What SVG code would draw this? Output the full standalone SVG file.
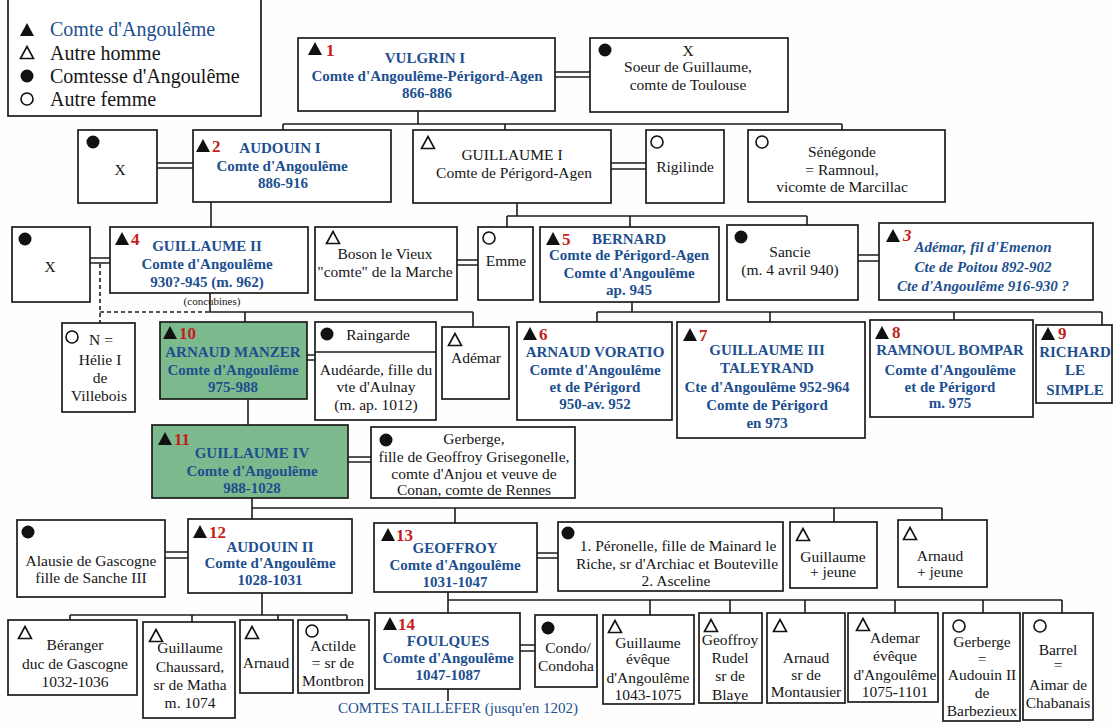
<svg xmlns="http://www.w3.org/2000/svg" xmlns:xlink="http://www.w3.org/1999/xlink" width="1113" height="726" viewBox="0 0 1113 726">
<style>
.bx{fill:#fff;stroke:#1c1c1c;stroke-width:1.7}
.gr{fill:#7cb98d}
.ln{fill:none;stroke:#1c1c1c;stroke-width:1.6}
.ds{fill:none;stroke:#1c1c1c;stroke-width:1.6;stroke-dasharray:4 3}
text{font-family:"Liberation Serif","Times New Roman",serif}
.t{font-size:15.5px;fill:#151515;text-anchor:middle}
.b{font-size:15px;font-weight:bold;fill:#1d4f8f;text-anchor:middle}
.bi{font-size:15px;font-weight:bold;font-style:italic;fill:#1d4f8f;text-anchor:middle}
.n{font-size:17px;font-weight:bold;fill:#c41e1a}
.lg{font-size:20px;fill:#151515}
.sm{font-size:11px;fill:#151515;text-anchor:middle}
</style>
<defs>
<path id="tf" d="M-7,6 L0,-7 L7,6 Z" fill="#111"/>
<path id="to" d="M-6.5,5.5 L0,-6.5 L6.5,5.5 Z" fill="none" stroke="#111" stroke-width="1.6"/>
<circle id="cf" r="6.5" fill="#111"/>
<circle id="co" r="6" fill="none" stroke="#111" stroke-width="1.6"/>
</defs>
<rect width="1113" height="726" fill="#fefefe"/>

<g id="legend">
<rect class="bx" x="8" y="-2" width="253" height="118"/>
<use href="#tf" x="27" y="30"/><text class="lg" x="50" y="36" style="fill:#1d4f8f">Comte d'Angoulême</text>
<use href="#to" x="27" y="53"/><text class="lg" x="50" y="60">Autre homme</text>
<use href="#cf" x="27" y="76"/><text class="lg" x="50" y="83">Comtesse d'Angoulême</text>
<use href="#co" x="27" y="99"/><text class="lg" x="50" y="106">Autre femme</text>
</g>

<g id="connectors">
<path class="ln" d="M418,111 V124 M283,124 H842 M283,124 V130 M505,124 V130 M842,124 V130"/>
<path class="ln" d="M211,202 V227"/>
<path class="ln" d="M517,203 V216 M507,216 H807 M507,216 V227 M630,216 V227 M807,216 V225"/>
<path class="ln" d="M210,293 V312 H473 M245,312 V322 M473,312 V327"/>
<path class="ds" d="M100,264 V323 M100,312 H210"/>
<path class="ln" d="M632,302 V312 M597,312 H1102 M597,312 V322 M770,312 V322 M954,312 V320 M1102,312 V325"/>
<path class="ln" d="M248,399 V425"/>
<path class="ln" d="M252,498 V519 M252,508 H942 M455,508 V523 M834,508 V522 M942,508 V520"/>
<path class="ln" d="M262,593 V615 M70,615 H347 M70,615 V620 M192,615 V622 M278,615 V620 M347,615 V620"/>
<path class="ln" d="M448,592 V613 M448,600 H1062 M650,600 V615 M730,600 V613 M805,600 V613 M895,600 V613 M983,600 V613 M1062,600 V613"/>
<path class="ln" d="M448,689 V701"/>
<path class="ln" d="M555,72 H590 M555,77 H590"/>
<path class="ln" d="M157,163 H193 M157,168 H193"/>
<path class="ln" d="M611,163 H646 M611,169 H646"/>
<path class="ln" d="M90,258 H110 M90,263 H110"/>
<path class="ln" d="M457,260 H478 M457,265 H478"/>
<path class="ln" d="M858,255 H879 M858,261 H879"/>
<path class="ln" d="M307,355 H315 M307,360 H315"/>
<path class="ln" d="M348,457 H371 M348,462 H371"/>
<path class="ln" d="M165,552 H188 M165,558 H188"/>
<path class="ln" d="M537,553 H558 M537,558 H558"/>
<path class="ln" d="M520,645 H535 M520,651 H535"/>
</g>

<g id="vulgrin">
<rect class="bx" x="298" y="38" width="257" height="73"/>
<use href="#tf" x="315" y="49"/><text class="n" x="326" y="56">1</text>
<text class="b" x="425" y="63">VULGRIN I</text>
<text class="b" x="427" y="81">Comte d'Angoulême-Périgord-Agen</text>
<text class="b" x="427" y="98">866-886</text>
</g>
<g id="soeur">
<rect class="bx" x="590" y="38" width="198" height="74"/>
<use href="#cf" x="605" y="50"/>
<text class="t" x="688" y="56">X</text>
<text class="t" x="688" y="72">Soeur de Guillaume,</text>
<text class="t" x="688" y="90">comte de Toulouse</text>
</g>
<g id="x1">
<rect class="bx" x="78" y="130" width="79" height="73"/>
<use href="#cf" x="93" y="142"/>
<text class="t" x="120" y="175">X</text>
</g>
<g id="audouin1">
<rect class="bx" x="193" y="130" width="198" height="72"/>
<use href="#tf" x="203" y="146"/><text class="n" x="212" y="152">2</text>
<text class="b" x="280" y="153">AUDOUIN I</text>
<text class="b" x="282" y="171">Comte d'Angoulême</text>
<text class="b" x="283" y="188">886-916</text>
</g>
<g id="guillaume1">
<rect class="bx" x="413" y="130" width="198" height="73"/>
<use href="#to" x="428" y="143"/>
<text class="t" x="512" y="160">GUILLAUME I</text>
<text class="t" x="514" y="178">Comte de Périgord-Agen</text>
</g>
<g id="rigilinde">
<rect class="bx" x="646" y="130" width="78" height="73"/>
<use href="#co" x="657" y="142"/>
<text class="t" x="685" y="172">Rigilinde</text>
</g>
<g id="senegonde">
<rect class="bx" x="748" y="130" width="197" height="72"/>
<use href="#co" x="762" y="142"/>
<text class="t" x="842" y="157">Sénégonde</text>
<text class="t" x="842" y="175">= Ramnoul,</text>
<text class="t" x="842" y="192">vicomte de Marcillac</text>
</g>

<g id="x2">
<rect class="bx" x="12" y="227" width="78" height="75"/>
<use href="#cf" x="25" y="239"/>
<text class="t" x="50" y="272">X</text>
</g>
<g id="guillaume2">
<rect class="bx" x="110" y="227" width="198" height="66"/>
<use href="#tf" x="122" y="239"/><text class="n" x="131" y="245">4</text>
<text class="b" x="207" y="251">GUILLAUME II</text>
<text class="b" x="207" y="269">Comte d'Angoulême</text>
<text class="b" x="207" y="287">930?-945 (m. 962)</text>
<text class="sm" x="212" y="305">(concubines)</text>
</g>
<g id="boson">
<rect class="bx" x="315" y="227" width="142" height="73"/>
<use href="#to" x="333" y="238"/>
<text class="t" x="385" y="259">Boson le Vieux</text>
<text class="t" x="385" y="277">"comte" de la Marche</text>
</g>
<g id="emme">
<rect class="bx" x="478" y="227" width="55" height="73"/>
<use href="#co" x="489" y="238"/>
<text class="t" x="506" y="266">Emme</text>
</g>
<g id="bernard">
<rect class="bx" x="540" y="227" width="179" height="75"/>
<use href="#tf" x="553" y="239"/><text class="n" x="562" y="245">5</text>
<text class="b" x="629" y="244">BERNARD</text>
<text class="b" x="629" y="260">Comte de Périgord-Agen</text>
<text class="b" x="629" y="278">Comte d'Angoulême</text>
<text class="b" x="629" y="295">ap. 945</text>
</g>
<g id="sancie">
<rect class="bx" x="727" y="225" width="131" height="75"/>
<use href="#cf" x="741" y="237"/>
<text class="t" x="790" y="257">Sancie</text>
<text class="t" x="790" y="275">(m. 4 avril 940)</text>
</g>
<g id="ademar3">
<rect class="bx" x="879" y="223" width="214" height="77"/>
<use href="#tf" x="893" y="236"/><text class="n" x="903" y="241" style="font-style:italic">3</text>
<text class="bi" x="983" y="252">Adémar, fil d'Emenon</text>
<text class="bi" x="983" y="272">Cte de Poitou 892-902</text>
<text class="bi" x="983" y="291">Cte d'Angoulême 916-930 ?</text>
</g>

<g id="helie">
<rect class="bx" x="62" y="323" width="73" height="89"/>
<use href="#co" x="72" y="337"/>
<text class="t" x="101" y="345">N =</text>
<text class="t" x="100" y="365">Hélie I</text>
<text class="t" x="100" y="383">de</text>
<text class="t" x="99" y="401">Villebois</text>
</g>
<g id="arnaudmanzer">
<rect class="bx gr" x="160" y="322" width="147" height="77"/>
<use href="#tf" x="170" y="333"/><text class="n" x="179" y="339">10</text>
<text class="b" x="233" y="357">ARNAUD MANZER</text>
<text class="b" x="233" y="375">Comte d'Angoulême</text>
<text class="b" x="233" y="392">975-988</text>
</g>
<g id="raingarde">
<rect class="bx" x="315" y="322" width="121" height="98"/>
<path class="ln" d="M315,352 H436"/>
<use href="#cf" x="327" y="334"/>
<text class="t" x="378" y="340">Raingarde</text>
<text class="t" x="376" y="375">Audéarde, fille du</text>
<text class="t" x="376" y="392">vte d'Aulnay</text>
<text class="t" x="376" y="410">(m. ap. 1012)</text>
</g>
<g id="ademar">
<rect class="bx" x="442" y="327" width="67" height="72"/>
<use href="#to" x="455" y="340"/>
<text class="t" x="476" y="363">Adémar</text>
</g>
<g id="arnaudvoratio">
<rect class="bx" x="517" y="322" width="155" height="98"/>
<use href="#tf" x="530" y="334"/><text class="n" x="539" y="340">6</text>
<text class="b" x="595" y="357">ARNAUD VORATIO</text>
<text class="b" x="595" y="375">Comte d'Angoulême</text>
<text class="b" x="595" y="392">et de Périgord</text>
<text class="b" x="595" y="409">950-av. 952</text>
</g>
<g id="guillaume3">
<rect class="bx" x="677" y="322" width="188" height="116"/>
<use href="#tf" x="690" y="335"/><text class="n" x="699" y="341">7</text>
<text class="b" x="767" y="355">GUILLAUME III</text>
<text class="b" x="767" y="373">TALEYRAND</text>
<text class="b" x="767" y="392">Cte d'Angoulême 952-964</text>
<text class="b" x="767" y="410">Comte de Périgord</text>
<text class="b" x="767" y="428">en 973</text>
</g>
<g id="ramnoul">
<rect class="bx" x="870" y="320" width="163" height="97"/>
<use href="#tf" x="882" y="333"/><text class="n" x="892" y="338">8</text>
<text class="b" x="950" y="355">RAMNOUL BOMPAR</text>
<text class="b" x="950" y="375">Comte d'Angoulême</text>
<text class="b" x="950" y="392">et de Périgord</text>
<text class="b" x="950" y="408">m. 975</text>
</g>
<g id="richard">
<rect class="bx" x="1036" y="325" width="76" height="78"/>
<use href="#tf" x="1048" y="334"/><text class="n" x="1058" y="339">9</text>
<text class="b" x="1075" y="357">RICHARD</text>
<text class="b" x="1075" y="375">LE</text>
<text class="b" x="1075" y="395">SIMPLE</text>
</g>

<g id="guillaume4">
<rect class="bx gr" x="152" y="425" width="196" height="73"/>
<use href="#tf" x="165" y="439"/><text class="n" x="174" y="445">11</text>
<text class="b" x="252" y="458">GUILLAUME IV</text>
<text class="b" x="252" y="476">Comte d'Angoulême</text>
<text class="b" x="252" y="493">988-1028</text>
</g>
<g id="gerberge1">
<rect class="bx" x="371" y="427" width="204" height="71"/>
<use href="#cf" x="386" y="440"/>
<text class="t" x="474" y="444">Gerberge,</text>
<text class="t" x="474" y="462">fille de Geoffroy Grisegonelle,</text>
<text class="t" x="474" y="479">comte d'Anjou et veuve de</text>
<text class="t" x="474" y="495">Conan, comte de Rennes</text>
</g>

<g id="alausie">
<rect class="bx" x="17" y="520" width="148" height="77"/>
<use href="#cf" x="28" y="532"/>
<text class="t" x="91" y="566">Alausie de Gascogne</text>
<text class="t" x="91" y="583">fille de Sanche III</text>
</g>
<g id="audouin2">
<rect class="bx" x="188" y="519" width="164" height="74"/>
<use href="#tf" x="200" y="532"/><text class="n" x="209" y="538">12</text>
<text class="b" x="270" y="552">AUDOUIN II</text>
<text class="b" x="270" y="568">Comte d'Angoulême</text>
<text class="b" x="270" y="585">1028-1031</text>
</g>
<g id="geoffroy">
<rect class="bx" x="374" y="523" width="163" height="69"/>
<use href="#tf" x="388" y="535"/><text class="n" x="396" y="541">13</text>
<text class="b" x="455" y="553">GEOFFROY</text>
<text class="b" x="455" y="570">Comte d'Angoulême</text>
<text class="b" x="455" y="587">1031-1047</text>
</g>
<g id="peronelle">
<rect class="bx" x="558" y="522" width="225" height="69"/>
<use href="#cf" x="568" y="533"/>
<text class="t" x="678" y="551">1. Péronelle, fille de Mainard le</text>
<text class="t" x="677" y="569">Riche, sr d'Archiac et Bouteville</text>
<text class="t" x="676" y="586">2. Asceline</text>
</g>
<g id="guillaumejeune">
<rect class="bx" x="790" y="522" width="87" height="66"/>
<use href="#to" x="803" y="535"/>
<text class="t" x="833" y="562">Guillaume</text>
<text class="t" x="833" y="577">+ jeune</text>
</g>
<g id="arnaudjeune">
<rect class="bx" x="898" y="520" width="89" height="67"/>
<use href="#to" x="910" y="534"/>
<text class="t" x="940" y="561">Arnaud</text>
<text class="t" x="940" y="577">+ jeune</text>
</g>

<g id="beranger">
<rect class="bx" x="8" y="620" width="129" height="75"/>
<use href="#to" x="25" y="633"/>
<text class="t" x="75" y="650">Béranger</text>
<text class="t" x="75" y="669">duc de Gascogne</text>
<text class="t" x="75" y="687">1032-1036</text>
</g>
<g id="chaussard">
<rect class="bx" x="143" y="622" width="92" height="96"/>
<use href="#to" x="156" y="636"/>
<text class="t" x="190" y="653">Guillaume</text>
<text class="t" x="190" y="672">Chaussard,</text>
<text class="t" x="190" y="690">sr de Matha</text>
<text class="t" x="190" y="708">m. 1074</text>
</g>
<g id="arnaud">
<rect class="bx" x="240" y="620" width="53" height="73"/>
<use href="#to" x="252" y="633"/>
<text class="t" x="266" y="668">Arnaud</text>
</g>
<g id="actilde">
<rect class="bx" x="298" y="620" width="71" height="73"/>
<use href="#co" x="312" y="631"/>
<text class="t" x="333" y="651">Actilde</text>
<text class="t" x="333" y="668">= sr de</text>
<text class="t" x="333" y="686">Montbron</text>
</g>
<g id="foulques">
<rect class="bx" x="375" y="613" width="145" height="76"/>
<use href="#tf" x="390" y="624"/><text class="n" x="398" y="630">14</text>
<text class="b" x="448" y="646">FOULQUES</text>
<text class="b" x="448" y="663">Comte d'Angoulême</text>
<text class="b" x="448" y="680">1047-1087</text>
</g>
<g id="condo">
<rect class="bx" x="535" y="615" width="62" height="72"/>
<use href="#cf" x="548" y="628"/>
<text class="t" x="568" y="653">Condo/</text>
<text class="t" x="566" y="671">Condoha</text>
</g>
<g id="guillaumeeveque">
<rect class="bx" x="603" y="615" width="91" height="89"/>
<use href="#to" x="615" y="627"/>
<text class="t" x="648" y="648">Guillaume</text>
<text class="t" x="648" y="664">évêque</text>
<text class="t" x="648" y="683">d'Angoulême</text>
<text class="t" x="648" y="700">1043-1075</text>
</g>
<g id="geoffroyrudel">
<rect class="bx" x="699" y="613" width="63" height="90"/>
<use href="#to" x="711" y="626"/>
<text class="t" x="730" y="645">Geoffroy</text>
<text class="t" x="730" y="663">Rudel</text>
<text class="t" x="730" y="681">sr de</text>
<text class="t" x="730" y="700">Blaye</text>
</g>
<g id="arnaudmontausier">
<rect class="bx" x="767" y="613" width="78" height="90"/>
<use href="#to" x="780" y="626"/>
<text class="t" x="806" y="663">Arnaud</text>
<text class="t" x="806" y="680">sr de</text>
<text class="t" x="806" y="697">Montausier</text>
</g>
<g id="ademareveque">
<rect class="bx" x="848" y="613" width="90" height="89"/>
<use href="#to" x="863" y="625"/>
<text class="t" x="895" y="643">Ademar</text>
<text class="t" x="895" y="661">évêque</text>
<text class="t" x="895" y="680">d'Angoulême</text>
<text class="t" x="895" y="697">1075-1101</text>
</g>
<g id="gerberge2">
<rect class="bx" x="943" y="613" width="77" height="108"/>
<use href="#co" x="959" y="626"/>
<text class="t" x="982" y="647">Gerberge</text>
<text class="t" x="982" y="664">=</text>
<text class="t" x="982" y="680">Audouin II</text>
<text class="t" x="982" y="698">de</text>
<text class="t" x="982" y="716">Barbezieux</text>
</g>
<g id="barrel">
<rect class="bx" x="1023" y="613" width="70" height="107"/>
<use href="#co" x="1040" y="626"/>
<text class="t" x="1058" y="655">Barrel</text>
<text class="t" x="1058" y="670">=</text>
<text class="t" x="1058" y="690">Aimar de</text>
<text class="t" x="1058" y="708">Chabanais</text>
</g>
<g id="taillefer">
<text x="458" y="713" style="font-size:15px;fill:#1d4f8f;text-anchor:middle">COMTES TAILLEFER (jusqu'en 1202)</text>
</g>
</svg>
